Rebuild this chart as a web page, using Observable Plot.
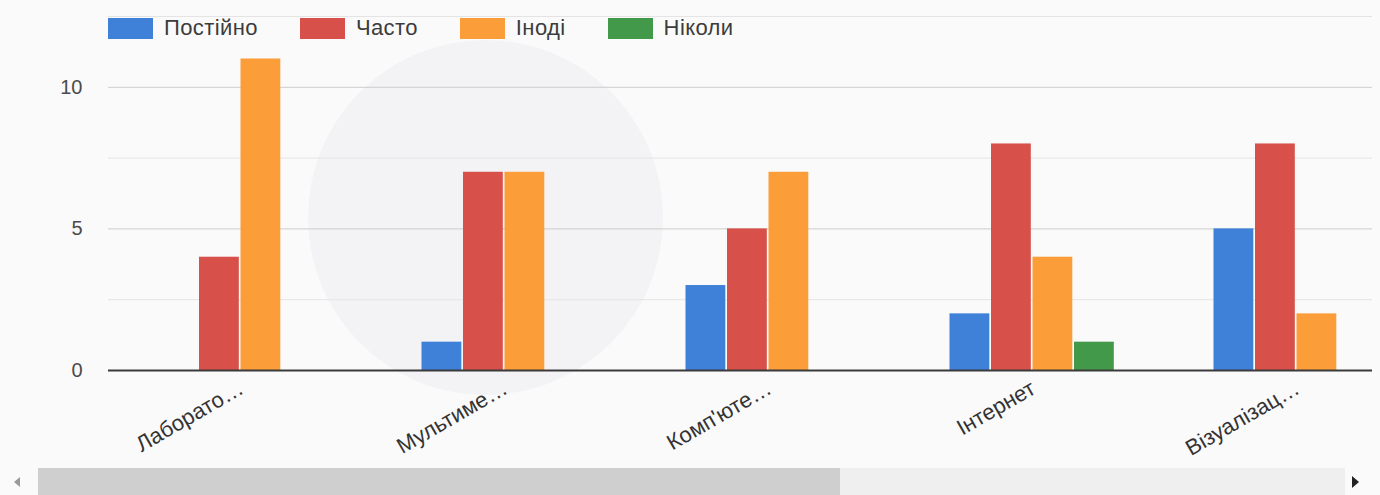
<!DOCTYPE html>
<html><head><meta charset="utf-8">
<script src="https://cdn.jsdelivr.net/npm/d3@7"></script>
<script src="https://cdn.jsdelivr.net/npm/@observablehq/plot@0.6"></script>
<style>
body{margin:0;background:#fafafa;font-family:"Liberation Sans",Arial,sans-serif;}
#wrap{position:relative;width:1380px;height:495px;overflow:hidden;background:#fafafa;}
#ghost{position:absolute;left:308px;top:40px;width:355px;height:355px;border-radius:50%;background:#f3f3f6;}
#chart{position:absolute;left:0;top:0;}
#legend{position:absolute;left:108px;top:15px;display:flex;align-items:center;font-size:22px;letter-spacing:0.4px;color:#3c3c3c;}
#legend .item{display:flex;align-items:center;margin-right:42px;}
#legend .sw{width:45px;height:21px;margin-right:11px;}
#scroll{position:absolute;left:0;top:468px;width:1380px;height:27px;}
#track{position:absolute;left:38px;top:0;width:1307px;height:27px;background:#efefef;}
#thumb{position:absolute;left:38px;top:0;width:802px;height:27px;background:#cfcfcf;}
#la{position:absolute;left:14px;top:9px;width:0;height:0;border-top:5px solid transparent;border-bottom:5px solid transparent;border-right:6px solid #9a9a9a;}
#ra{position:absolute;left:1352px;top:8px;width:0;height:0;border-top:6px solid transparent;border-bottom:6px solid transparent;border-left:7px solid #222;}
</style></head><body>
<div id="wrap">
  <div id="ghost"></div>
  <div id="chart"></div>
  <div id="legend"></div>
  <div id="scroll"><div id="track"></div><div id="thumb"></div><div id="la"></div><div id="ra"></div></div>
</div>
<script>
const categories = ["Лаборато…", "Мультиме…", "Комп'юте…", "Інтернет", "Візуалізац…"];
const seriesNames = ["Постійно", "Часто", "Іноді", "Ніколи"];
const postiyno = [0, 1, 3, 2, 5];
const chasto   = [4, 7, 5, 8, 8];
const inodi    = [11, 7, 7, 4, 2];
const nikoly   = [0, 0, 0, 1, 0];
const colors = ["#3f80d9", "#d7504a", "#fb9e3a", "#43994a"];
const yTicks = [0, 5, 10];
const yMinor = [2.5, 7.5, 12.5];

const values = [postiyno, chasto, inodi, nikoly];
const rows = categories.flatMap((c, ci) => seriesNames.map((s, si) => ({category: c, series: s, value: values[si][ci]})));

const x0 = 108, x1 = 1429;
const bandW = (x1 - x0) / categories.length;
const offsets = [48.5, 90, 131.5, 173];
const barW = 40;

const chart = Plot.plot({
  width: 1380,
  height: 468,
  marginLeft: 108,
  marginRight: 8,
  marginTop: 16,
  marginBottom: 98,
  style: {background: "transparent", fontFamily: "'Liberation Sans', Arial, sans-serif", color: "#444"},
  x: {type: "band", domain: categories, range: [x0, x1], padding: 0},
  y: {domain: [0, 12.5]},
  marks: [
    Plot.ruleY(yMinor, {stroke: "#e4e4e4", strokeWidth: 1}),
    Plot.ruleY(yTicks.filter(d => d > 0), {stroke: "#cdcdcd", strokeWidth: 1}),
    ...seriesNames.map((s, si) => Plot.barY(rows.filter(r => r.series === s && r.value > 0), {
      x: "category", y: "value", fill: colors[si],
      insetLeft: offsets[si], insetRight: bandW - offsets[si] - barW
    })),
    Plot.ruleY([0], {stroke: "#3a3a3a", strokeWidth: 2}),
    Plot.axisY({ticks: yTicks, tickSize: 0, tickPadding: 26, fontSize: 20, label: null, fill: "#4a4a4a"}),
    Plot.axisX({tickSize: 0, tickPadding: 16, tickRotate: -30, fontSize: 22, label: null, fill: "#333"})
  ]
});
document.getElementById("chart").appendChild(chart);

const legend = document.getElementById("legend");
seriesNames.forEach((s, i) => {
  const it = document.createElement("div");
  it.className = "item";
  const sw = document.createElement("span");
  sw.className = "sw";
  sw.style.background = colors[i];
  const t = document.createElement("span");
  t.textContent = s;
  it.appendChild(sw); it.appendChild(t);
  legend.appendChild(it);
});
</script>
</body></html>
